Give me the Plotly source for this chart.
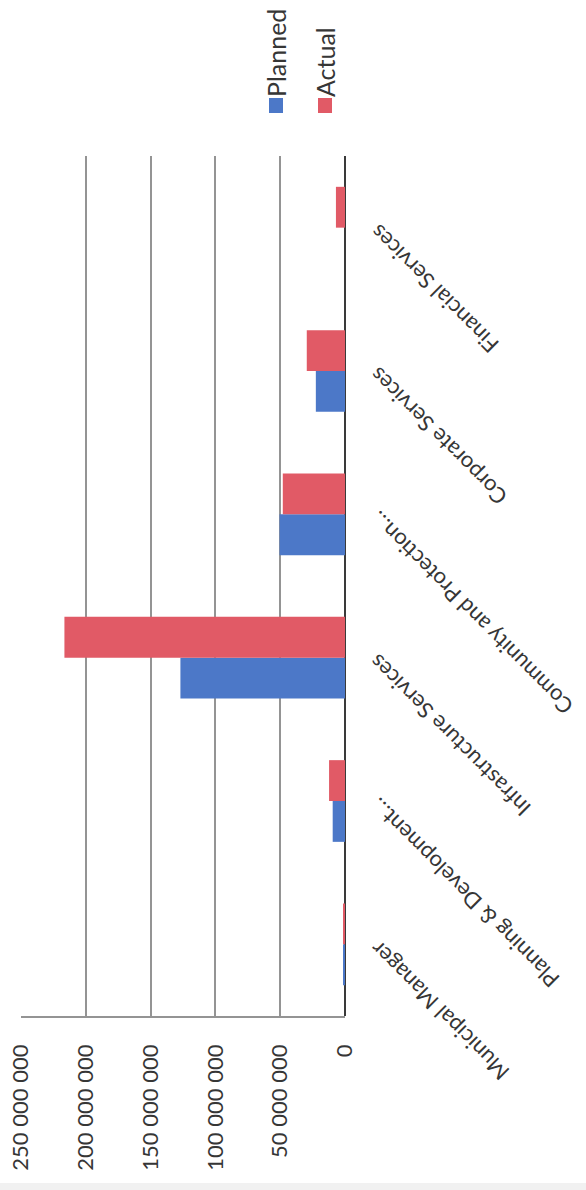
import plotly.graph_objects as go

categories = ["Municipal Manager", "Planning & Development…", "Infrastructure Services",
              "Community and Protection…", "Corporate Services", "Financial Services"]
planned = [1.0e6, 9.5e6, 127.0e6, 50.5e6, 22.5e6, 0]
actual = [1.2e6, 12.3e6, 216.5e6, 48.0e6, 29.5e6, 7.0e6]
tick_vals = [0, 50e6, 100e6, 150e6, 200e6, 250e6]
tick_text = ["0", "50 000 000", "100 000 000", "150 000 000", "200 000 000", "250 000 000"]

BLUE = "#4C78C8"
RED = "#E15A66"
TXT = "#363636"
FONT = "Lato"

W, H = 586, 1190
ML, MR, MT, MB = 21, 241, 156, 174
PW = W - ML - MR
PH = H - MT - MB


def px(xpix):
    return (xpix - ML) / PW


def py(ypix):
    return (H - MB - ypix) / PH


fig = go.Figure()
fig.add_trace(go.Bar(y=categories, x=planned, orientation="h", name="Planned",
                     marker=dict(color=BLUE, line=dict(width=0))))
fig.add_trace(go.Bar(y=categories, x=actual, orientation="h", name="Actual",
                     marker=dict(color=RED, line=dict(width=0))))

fig.update_layout(
    width=W, height=H,
    margin=dict(l=ML, r=MR, t=MT, b=MB, autoexpand=False),
    paper_bgcolor="white", plot_bgcolor="white",
    barmode="group", bargap=0.43, bargroupgap=0,
    showlegend=False,
    font=dict(family=FONT, color=TXT),
)
fig.update_xaxes(
    range=[250e6, 0], tickvals=tick_vals, ticktext=tick_text, tickangle=-90,
    tickfont=dict(size=22, family=FONT, color=TXT),
    showgrid=True, gridcolor="#949494", gridwidth=1.5,
    zeroline=True, zerolinecolor="#3a3a3a", zerolinewidth=1.5,
    showline=True, linecolor="#949494", linewidth=1.5,
    ticks="", ticklabelstandoff=18,
)
fig.update_yaxes(
    categoryorder="array", categoryarray=categories,
    range=[-0.5, len(categories) - 0.5], autorange=False,
    showticklabels=False, showgrid=False, zeroline=False, showline=False, ticks="",
)

# category labels (rotated, reading toward the axis)
for c in categories:
    fig.add_annotation(x=1, xref="paper", y=c, yref="y", text=c, showarrow=False,
                       textangle=-135, xanchor="left", yanchor="top",
                       xshift=16, yshift=11,
                       font=dict(size=22, family=FONT, color=TXT))

# rotated legend
legend_items = [("Planned", BLUE, 269, 283), ("Actual", RED, 318, 332)]
for name, col, x0, x1 in legend_items:
    fig.add_shape(type="rect", xref="paper", yref="paper",
                  x0=px(x0), x1=px(x1), y0=py(113), y1=py(98),
                  fillcolor=col, line=dict(width=0))
    fig.add_annotation(x=px((x0 + x1) / 2), xref="paper", y=py(99), yref="paper",
                       text=name, showarrow=False, textangle=-90,
                       xanchor="center", yanchor="bottom",
                       font=dict(size=25, family=FONT, color=TXT))

# light strip at the bottom edge
fig.add_shape(type="rect", xref="paper", yref="paper", layer="below",
              x0=px(0), x1=px(W), y0=py(1190), y1=py(1183),
              fillcolor="#f1f1f1", line=dict(width=0))

fig.write_html("out.html")
